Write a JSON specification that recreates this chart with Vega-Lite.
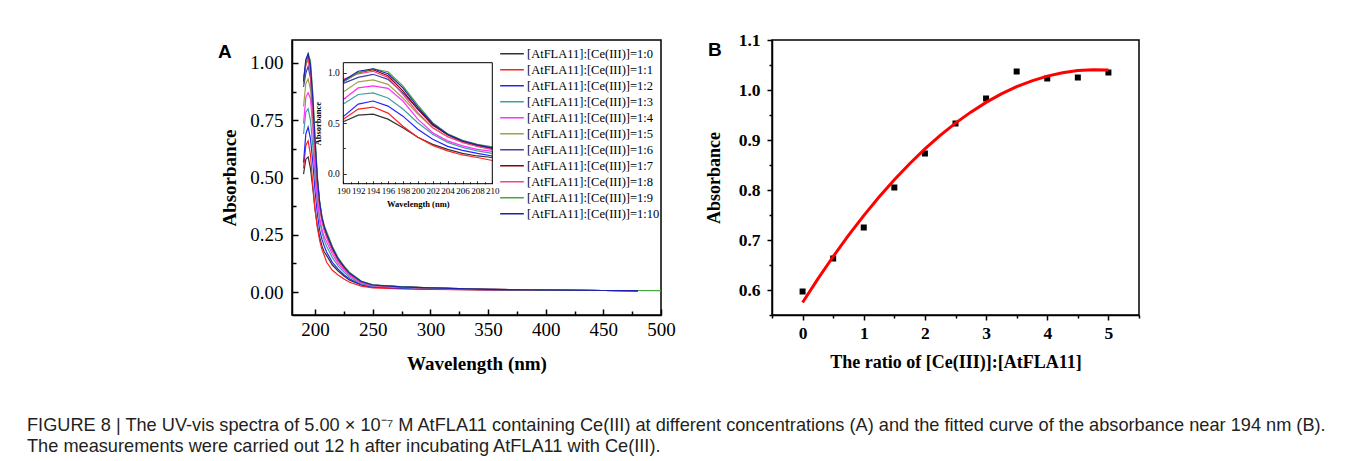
{
  "$schema": "https://vega.github.io/schema/vega-lite/v6.json",
  "background": "white",
  "padding": {"left": 27, "top": 30, "right": 5, "bottom": 5},
  "title": {
    "text": ["FIGURE 8 | The UV-vis spectra of 5.00 × 10⁻⁷ M AtFLA11 containing Ce(III) at different concentrations (A) and the fitted curve of the absorbance near 194 nm (B).", "The measurements were carried out 12 h after incubating AtFLA11 with Ce(III)."],
    "orient": "bottom", "anchor": "start", "frame": "group", "dx": -265, "offset": 43,
    "font": "Liberation Sans", "fontSize": 18.2, "fontWeight": "normal", "lineHeight": 21, "color": "#231f20"
  },
  "bounds": "flush",
  "spacing": 111,
  "datasets": {
    "spectra": [
      {"ratio":"1:0","wl":190,"abs":0.515},{"ratio":"1:0","wl":192,"abs":0.58},{"ratio":"1:0","wl":194,"abs":0.59},{"ratio":"1:0","wl":196,"abs":0.54},{"ratio":"1:0","wl":198,"abs":0.455},{"ratio":"1:0","wl":200,"abs":0.36},{"ratio":"1:0","wl":202,"abs":0.29},{"ratio":"1:0","wl":204,"abs":0.24},{"ratio":"1:0","wl":206,"abs":0.2},{"ratio":"1:0","wl":208,"abs":0.175},{"ratio":"1:0","wl":210,"abs":0.16},{"ratio":"1:0","wl":215,"abs":0.118},{"ratio":"1:0","wl":220,"abs":0.092},{"ratio":"1:0","wl":225,"abs":0.07},{"ratio":"1:0","wl":230,"abs":0.052},{"ratio":"1:0","wl":240,"abs":0.031},{"ratio":"1:0","wl":250,"abs":0.021},{"ratio":"1:0","wl":275,"abs":0.016},{"ratio":"1:0","wl":300,"abs":0.013},{"ratio":"1:0","wl":350,"abs":0.01},{"ratio":"1:0","wl":400,"abs":0.008},{"ratio":"1:0","wl":450,"abs":0.007},{"ratio":"1:0","wl":480,"abs":0.006},
      {"ratio":"1:1","wl":190,"abs":0.54},{"ratio":"1:1","wl":192,"abs":0.64},{"ratio":"1:1","wl":194,"abs":0.66},{"ratio":"1:1","wl":196,"abs":0.6},{"ratio":"1:1","wl":198,"abs":0.47},{"ratio":"1:1","wl":200,"abs":0.36},{"ratio":"1:1","wl":202,"abs":0.28},{"ratio":"1:1","wl":204,"abs":0.225},{"ratio":"1:1","wl":206,"abs":0.185},{"ratio":"1:1","wl":208,"abs":0.16},{"ratio":"1:1","wl":210,"abs":0.13},{"ratio":"1:1","wl":215,"abs":0.095},{"ratio":"1:1","wl":220,"abs":0.075},{"ratio":"1:1","wl":225,"abs":0.057},{"ratio":"1:1","wl":230,"abs":0.043},{"ratio":"1:1","wl":240,"abs":0.026},{"ratio":"1:1","wl":250,"abs":0.018},{"ratio":"1:1","wl":275,"abs":0.014},{"ratio":"1:1","wl":300,"abs":0.012},{"ratio":"1:1","wl":350,"abs":0.01},{"ratio":"1:1","wl":400,"abs":0.008},{"ratio":"1:1","wl":450,"abs":0.007},{"ratio":"1:1","wl":480,"abs":0.006},
      {"ratio":"1:2","wl":190,"abs":0.565},{"ratio":"1:2","wl":192,"abs":0.69},{"ratio":"1:2","wl":194,"abs":0.72},{"ratio":"1:2","wl":196,"abs":0.67},{"ratio":"1:2","wl":198,"abs":0.57},{"ratio":"1:2","wl":200,"abs":0.44},{"ratio":"1:2","wl":202,"abs":0.34},{"ratio":"1:2","wl":204,"abs":0.27},{"ratio":"1:2","wl":206,"abs":0.23},{"ratio":"1:2","wl":208,"abs":0.2},{"ratio":"1:2","wl":210,"abs":0.175},{"ratio":"1:2","wl":215,"abs":0.13},{"ratio":"1:2","wl":220,"abs":0.1},{"ratio":"1:2","wl":225,"abs":0.076},{"ratio":"1:2","wl":230,"abs":0.057},{"ratio":"1:2","wl":240,"abs":0.033},{"ratio":"1:2","wl":250,"abs":0.023},{"ratio":"1:2","wl":275,"abs":0.017},{"ratio":"1:2","wl":300,"abs":0.014},{"ratio":"1:2","wl":350,"abs":0.011},{"ratio":"1:2","wl":400,"abs":0.008},{"ratio":"1:2","wl":450,"abs":0.007},{"ratio":"1:2","wl":480,"abs":0.006},
      {"ratio":"1:3","wl":190,"abs":0.69},{"ratio":"1:3","wl":192,"abs":0.785},{"ratio":"1:3","wl":194,"abs":0.8},{"ratio":"1:3","wl":196,"abs":0.75},{"ratio":"1:3","wl":198,"abs":0.64},{"ratio":"1:3","wl":200,"abs":0.505},{"ratio":"1:3","wl":202,"abs":0.39},{"ratio":"1:3","wl":204,"abs":0.31},{"ratio":"1:3","wl":206,"abs":0.26},{"ratio":"1:3","wl":208,"abs":0.225},{"ratio":"1:3","wl":210,"abs":0.2},{"ratio":"1:3","wl":215,"abs":0.15},{"ratio":"1:3","wl":220,"abs":0.114},{"ratio":"1:3","wl":225,"abs":0.087},{"ratio":"1:3","wl":230,"abs":0.065},{"ratio":"1:3","wl":240,"abs":0.037},{"ratio":"1:3","wl":250,"abs":0.025},{"ratio":"1:3","wl":275,"abs":0.019},{"ratio":"1:3","wl":300,"abs":0.015},{"ratio":"1:3","wl":350,"abs":0.011},{"ratio":"1:3","wl":400,"abs":0.009},{"ratio":"1:3","wl":450,"abs":0.007},{"ratio":"1:3","wl":480,"abs":0.006},
      {"ratio":"1:4","wl":190,"abs":0.735},{"ratio":"1:4","wl":192,"abs":0.85},{"ratio":"1:4","wl":194,"abs":0.87},{"ratio":"1:4","wl":196,"abs":0.845},{"ratio":"1:4","wl":198,"abs":0.72},{"ratio":"1:4","wl":200,"abs":0.54},{"ratio":"1:4","wl":202,"abs":0.405},{"ratio":"1:4","wl":204,"abs":0.325},{"ratio":"1:4","wl":206,"abs":0.275},{"ratio":"1:4","wl":208,"abs":0.24},{"ratio":"1:4","wl":210,"abs":0.22},{"ratio":"1:4","wl":215,"abs":0.165},{"ratio":"1:4","wl":220,"abs":0.125},{"ratio":"1:4","wl":225,"abs":0.096},{"ratio":"1:4","wl":230,"abs":0.071},{"ratio":"1:4","wl":240,"abs":0.041},{"ratio":"1:4","wl":250,"abs":0.027},{"ratio":"1:4","wl":275,"abs":0.021},{"ratio":"1:4","wl":300,"abs":0.016},{"ratio":"1:4","wl":350,"abs":0.011},{"ratio":"1:4","wl":400,"abs":0.009},{"ratio":"1:4","wl":450,"abs":0.007},{"ratio":"1:4","wl":480,"abs":0.006},
      {"ratio":"1:5","wl":190,"abs":0.81},{"ratio":"1:5","wl":192,"abs":0.91},{"ratio":"1:5","wl":194,"abs":0.93},{"ratio":"1:5","wl":196,"abs":0.885},{"ratio":"1:5","wl":198,"abs":0.75},{"ratio":"1:5","wl":200,"abs":0.59},{"ratio":"1:5","wl":202,"abs":0.455},{"ratio":"1:5","wl":204,"abs":0.365},{"ratio":"1:5","wl":206,"abs":0.31},{"ratio":"1:5","wl":208,"abs":0.27},{"ratio":"1:5","wl":210,"abs":0.24},{"ratio":"1:5","wl":215,"abs":0.18},{"ratio":"1:5","wl":220,"abs":0.136},{"ratio":"1:5","wl":225,"abs":0.104},{"ratio":"1:5","wl":230,"abs":0.077},{"ratio":"1:5","wl":240,"abs":0.044},{"ratio":"1:5","wl":250,"abs":0.029},{"ratio":"1:5","wl":275,"abs":0.022},{"ratio":"1:5","wl":300,"abs":0.017},{"ratio":"1:5","wl":350,"abs":0.012},{"ratio":"1:5","wl":400,"abs":0.009},{"ratio":"1:5","wl":450,"abs":0.007},{"ratio":"1:5","wl":480,"abs":0.006},
      {"ratio":"1:6","wl":190,"abs":0.895},{"ratio":"1:6","wl":192,"abs":0.955},{"ratio":"1:6","wl":194,"abs":0.985},{"ratio":"1:6","wl":196,"abs":0.935},{"ratio":"1:6","wl":198,"abs":0.8},{"ratio":"1:6","wl":200,"abs":0.64},{"ratio":"1:6","wl":202,"abs":0.49},{"ratio":"1:6","wl":204,"abs":0.385},{"ratio":"1:6","wl":206,"abs":0.32},{"ratio":"1:6","wl":208,"abs":0.275},{"ratio":"1:6","wl":210,"abs":0.245},{"ratio":"1:6","wl":215,"abs":0.184},{"ratio":"1:6","wl":220,"abs":0.139},{"ratio":"1:6","wl":225,"abs":0.106},{"ratio":"1:6","wl":230,"abs":0.079},{"ratio":"1:6","wl":240,"abs":0.045},{"ratio":"1:6","wl":250,"abs":0.03},{"ratio":"1:6","wl":275,"abs":0.023},{"ratio":"1:6","wl":300,"abs":0.017},{"ratio":"1:6","wl":350,"abs":0.012},{"ratio":"1:6","wl":400,"abs":0.009},{"ratio":"1:6","wl":450,"abs":0.007},{"ratio":"1:6","wl":480,"abs":0.006},
      {"ratio":"1:7","wl":190,"abs":0.91},{"ratio":"1:7","wl":192,"abs":1.0},{"ratio":"1:7","wl":194,"abs":1.03},{"ratio":"1:7","wl":196,"abs":0.97},{"ratio":"1:7","wl":198,"abs":0.82},{"ratio":"1:7","wl":200,"abs":0.64},{"ratio":"1:7","wl":202,"abs":0.48},{"ratio":"1:7","wl":204,"abs":0.385},{"ratio":"1:7","wl":206,"abs":0.32},{"ratio":"1:7","wl":208,"abs":0.28},{"ratio":"1:7","wl":210,"abs":0.255},{"ratio":"1:7","wl":215,"abs":0.193},{"ratio":"1:7","wl":220,"abs":0.145},{"ratio":"1:7","wl":225,"abs":0.111},{"ratio":"1:7","wl":230,"abs":0.082},{"ratio":"1:7","wl":240,"abs":0.046},{"ratio":"1:7","wl":250,"abs":0.031},{"ratio":"1:7","wl":275,"abs":0.023},{"ratio":"1:7","wl":300,"abs":0.018},{"ratio":"1:7","wl":350,"abs":0.012},{"ratio":"1:7","wl":400,"abs":0.009},{"ratio":"1:7","wl":450,"abs":0.007},{"ratio":"1:7","wl":480,"abs":0.006},
      {"ratio":"1:8","wl":190,"abs":0.935},{"ratio":"1:8","wl":192,"abs":0.99},{"ratio":"1:8","wl":194,"abs":1.015},{"ratio":"1:8","wl":196,"abs":0.955},{"ratio":"1:8","wl":198,"abs":0.785},{"ratio":"1:8","wl":200,"abs":0.605},{"ratio":"1:8","wl":202,"abs":0.455},{"ratio":"1:8","wl":204,"abs":0.365},{"ratio":"1:8","wl":206,"abs":0.31},{"ratio":"1:8","wl":208,"abs":0.27},{"ratio":"1:8","wl":210,"abs":0.24},{"ratio":"1:8","wl":215,"abs":0.18},{"ratio":"1:8","wl":220,"abs":0.136},{"ratio":"1:8","wl":225,"abs":0.104},{"ratio":"1:8","wl":230,"abs":0.077},{"ratio":"1:8","wl":240,"abs":0.044},{"ratio":"1:8","wl":250,"abs":0.029},{"ratio":"1:8","wl":275,"abs":0.022},{"ratio":"1:8","wl":300,"abs":0.017},{"ratio":"1:8","wl":350,"abs":0.012},{"ratio":"1:8","wl":390,"abs":0.009},
      {"ratio":"1:9","wl":190,"abs":0.91},{"ratio":"1:9","wl":192,"abs":1.0},{"ratio":"1:9","wl":194,"abs":1.04},{"ratio":"1:9","wl":196,"abs":1.01},{"ratio":"1:9","wl":198,"abs":0.87},{"ratio":"1:9","wl":200,"abs":0.68},{"ratio":"1:9","wl":202,"abs":0.505},{"ratio":"1:9","wl":204,"abs":0.395},{"ratio":"1:9","wl":206,"abs":0.33},{"ratio":"1:9","wl":208,"abs":0.29},{"ratio":"1:9","wl":210,"abs":0.265},{"ratio":"1:9","wl":215,"abs":0.2},{"ratio":"1:9","wl":220,"abs":0.15},{"ratio":"1:9","wl":225,"abs":0.115},{"ratio":"1:9","wl":230,"abs":0.085},{"ratio":"1:9","wl":240,"abs":0.048},{"ratio":"1:9","wl":250,"abs":0.032},{"ratio":"1:9","wl":275,"abs":0.024},{"ratio":"1:9","wl":300,"abs":0.018},{"ratio":"1:9","wl":350,"abs":0.012},{"ratio":"1:9","wl":400,"abs":0.009},{"ratio":"1:9","wl":450,"abs":0.007},{"ratio":"1:9","wl":500,"abs":0.006},
      {"ratio":"1:10","wl":190,"abs":0.92},{"ratio":"1:10","wl":192,"abs":1.015},{"ratio":"1:10","wl":194,"abs":1.04},{"ratio":"1:10","wl":196,"abs":0.99},{"ratio":"1:10","wl":198,"abs":0.85},{"ratio":"1:10","wl":200,"abs":0.66},{"ratio":"1:10","wl":202,"abs":0.495},{"ratio":"1:10","wl":204,"abs":0.39},{"ratio":"1:10","wl":206,"abs":0.325},{"ratio":"1:10","wl":208,"abs":0.285},{"ratio":"1:10","wl":210,"abs":0.255},{"ratio":"1:10","wl":215,"abs":0.193},{"ratio":"1:10","wl":220,"abs":0.145},{"ratio":"1:10","wl":225,"abs":0.111},{"ratio":"1:10","wl":230,"abs":0.082},{"ratio":"1:10","wl":240,"abs":0.046},{"ratio":"1:10","wl":250,"abs":0.031},{"ratio":"1:10","wl":275,"abs":0.023},{"ratio":"1:10","wl":300,"abs":0.018},{"ratio":"1:10","wl":350,"abs":0.012},{"ratio":"1:10","wl":400,"abs":0.009},{"ratio":"1:10","wl":450,"abs":0.007},{"ratio":"1:10","wl":480,"abs":0.006}
    ],
    "points": [
      {"ratio":0,"abs":0.597},{"ratio":0.5,"abs":0.663},{"ratio":1,"abs":0.725},{"ratio":1.5,"abs":0.805},{"ratio":2,"abs":0.873},{"ratio":2.5,"abs":0.933},{"ratio":3,"abs":0.983},{"ratio":3.5,"abs":1.037},{"ratio":4,"abs":1.023},{"ratio":4.5,"abs":1.025},{"ratio":5,"abs":1.035}
    ],
    "fit": [
      {"ratio":0,"abs":0.575},{"ratio":0.25,"abs":0.6222},{"ratio":0.5,"abs":0.667},{"ratio":0.75,"abs":0.7091},{"ratio":1,"abs":0.7488},{"ratio":1.25,"abs":0.7859},{"ratio":1.5,"abs":0.8206},{"ratio":1.75,"abs":0.8526},{"ratio":2,"abs":0.8822},{"ratio":2.25,"abs":0.9092},{"ratio":2.5,"abs":0.9338},{"ratio":2.75,"abs":0.9557},{"ratio":3,"abs":0.9752},{"ratio":3.25,"abs":0.9921},{"ratio":3.5,"abs":1.0066},{"ratio":3.75,"abs":1.0184},{"ratio":4,"abs":1.0278},{"ratio":4.25,"abs":1.0346},{"ratio":4.5,"abs":1.039},{"ratio":4.75,"abs":1.0407},{"ratio":5,"abs":1.04}
    ]
  },
  "hconcat": [
    {
      "width": 369, "height": 275,
      "title": {"text": "A", "anchor": "start", "frame": "group", "dx": -74, "offset": -37, "baseline": "alphabetic", "font": "Liberation Sans", "fontSize": 19, "fontWeight": "bold", "color": "black"},
      "data": {"name": "spectra"},
      "layer": [
        {
          "mark": {"type": "line", "strokeWidth": 1.2},
          "encoding": {
            "x": {"field": "wl", "type": "quantitative", "scale": {"domain": [180, 500], "nice": false},
              "axis": {"orient": "bottom", "values": [200,225,250,275,300,325,350,375,400,425,450,475,500],
                "labelExpr": "datum.value % 50 === 0 ? datum.label : ''", "labelOverlap": false, "labelFlush": false,
                "tickSize": {"condition": {"test": "datum.value % 50 === 0", "value": -6}, "value": -4},
                "tickWidth": 1.5, "domainWidth": 1.5, "labelFont": "Liberation Serif", "labelFontSize": 19, "labelPadding": 11, "format": "d",
                "title": "Wavelength (nm)", "titleFont": "Liberation Serif", "titleFontSize": 19, "titleFontWeight": "bold", "titlePadding": 13}},
            "y": {"field": "abs", "type": "quantitative", "scale": {"domain": [-0.1, 1.1], "nice": false},
              "axis": {"orient": "left", "values": [0,0.125,0.25,0.375,0.5,0.625,0.75,0.875,1.0],
                "labelExpr": "(datum.value * 4) % 1 === 0 ? datum.label : ''", "labelOverlap": false,
                "tickSize": {"condition": {"test": "(datum.value * 4) % 1 === 0", "value": -6}, "value": -4},
                "tickWidth": 1.5, "domainWidth": 1.5, "labelFont": "Liberation Serif", "labelFontSize": 19, "labelPadding": 15, "format": ".2f",
                "title": "Absorbance", "titleFont": "Liberation Serif", "titleFontSize": 19, "titleFontWeight": "bold", "titlePadding": 10}},
            "color": {"field": "ratio", "type": "nominal",
              "scale": {"domain": ["1:0","1:1","1:2","1:3","1:4","1:5","1:6","1:7","1:8","1:9","1:10"],
                "range": ["#333333","#ff2020","#2424ff","#40a0a0","#ff30ff","#a0a050","#4040a8","#8b0000","#ff4080","#45a845","#2020b0"]},
              "legend": {"title": null, "orient": "none", "legendX": 207, "legendY": 6, "padding": 0,
                "labelExpr": "'[AtFLA11]:[Ce(III)]=' + datum.label",
                "labelFont": "Liberation Serif", "labelFontSize": 12.5, "labelColor": "black", "labelOffset": 2,
                "symbolType": "stroke", "symbolSize": 560, "symbolStrokeWidth": 1.5, "rowPadding": 0, "clipHeight": 15.6}}
          }
        },
        {
          "layer": [
            {
              "transform": [{"filter": "datum.wl <= 210"}],
              "mark": {"type": "line", "strokeWidth": 1.2},
              "encoding": {
                "x": {"field": "wl", "type": "quantitative", "scale": {"domain": [190, 210], "nice": false, "range": [51.3, 200.3]},
                  "axis": {"orient": "bottom", "offset": -131.3, "domain": false, "values": [190,192,194,196,198,200,202,204,206,208,210],
                    "labelOverlap": false, "labelFlush": false, "tickSize": -3,
                    "tickWidth": 0.8, "labelFont": "Liberation Serif", "labelFontSize": 9, "labelPadding": 5.5, "format": "d",
                    "title": "Wavelength (nm)", "titleFont": "Liberation Serif", "titleFontSize": 8.5, "titleFontWeight": "bold", "titlePadding": 4}},
                "y": {"field": "abs", "type": "quantitative", "scale": {"domain": [-0.1, 1.1], "nice": false, "range": [143.7, 22.7]},
                  "axis": {"orient": "left", "offset": -51.3, "domain": false, "values": [0, 0.5, 1.0],
                    "labelOverlap": false, "tickSize": -3,
                    "tickWidth": 0.8, "labelFont": "Liberation Serif", "labelFontSize": 9.5, "labelPadding": 7, "format": ".1f",
                    "title": "Absorbance", "titleFont": "Liberation Serif", "titleFontSize": 8.5, "titleFontWeight": "bold", "titlePadding": 5}},
                "color": {"field": "ratio", "type": "nominal", "legend": null}
              }
            },
            {
              "data": {"values": [{}]},
              "mark": {"type": "rect", "fill": null, "stroke": "black", "strokeWidth": 1},
              "encoding": {
                "x": {"datum": 190, "type": "quantitative",
                  "axis": {"orient": "bottom", "offset": -131.3, "domain": false, "labels": false, "title": null, "values": [191,193,195,197,199,201,203,205,207,209], "tickSize": -2, "tickWidth": 0.8}},
                "x2": {"datum": 210},
                "y": {"datum": -0.1, "type": "quantitative",
                  "axis": {"orient": "left", "offset": -51.3, "domain": false, "labels": false, "title": null, "values": [0.25, 0.75], "tickSize": -2, "tickWidth": 0.8}},
                "y2": {"datum": 1.1}
              }
            }
          ],
          "resolve": {"axis": {"x": "independent", "y": "independent"}}
        }
      ],
      "resolve": {"scale": {"x": "independent", "y": "independent"}, "axis": {"x": "independent", "y": "independent"}}
    },
    {
      "width": 367, "height": 275,
      "title": {"text": "B", "anchor": "start", "frame": "group", "dx": -64, "offset": -44, "baseline": "alphabetic", "font": "Liberation Sans", "fontSize": 19, "fontWeight": "bold", "color": "black"},
      "layer": [
        {
          "data": {"name": "points"},
          "mark": {"type": "square", "size": 36, "color": "black", "opacity": 1},
          "encoding": {
            "x": {"field": "ratio", "type": "quantitative", "scale": {"domain": [-0.5, 5.5], "nice": false},
              "axis": {"orient": "bottom", "values": [0,1,2,3,4,5], "labelOverlap": false, "labelFlush": false,
                "tickSize": 5, "tickWidth": 1.5, "domainWidth": 1.5, "labelFont": "Liberation Serif", "labelFontSize": 17.5, "labelFontWeight": "bold", "labelPadding": 4, "format": "d",
                "title": "The ratio of [Ce(III)]:[AtFLA11]", "titleFont": "Liberation Serif", "titleFontSize": 18, "titleFontWeight": "bold", "titlePadding": 12}},
            "y": {"field": "abs", "type": "quantitative", "scale": {"domain": [0.55, 1.1], "nice": false},
              "axis": {"orient": "left", "values": [0.6,0.7,0.8,0.9,1.0,1.1], "labelOverlap": false,
                "tickSize": 5, "tickWidth": 1.5, "domainWidth": 1.5, "labelFont": "Liberation Serif", "labelFontSize": 17.5, "labelFontWeight": "bold", "labelPadding": 7, "format": ".1f",
                "title": "Absorbance", "titleFont": "Liberation Serif", "titleFontSize": 18, "titleFontWeight": "bold", "titlePadding": 15}}
          }
        },
        {
          "data": {"name": "fit"},
          "mark": {"type": "line", "color": "#ff0000", "strokeWidth": 3},
          "encoding": {
            "x": {"field": "ratio", "type": "quantitative",
              "axis": {"orient": "bottom", "values": [-0.5,0.5,1.5,2.5,3.5,4.5,5.5], "labels": false, "title": null, "domain": false, "tickSize": 3, "tickWidth": 1.5}},
            "y": {"field": "abs", "type": "quantitative",
              "axis": {"orient": "left", "values": [0.55,0.65,0.75,0.85,0.95,1.05], "labels": false, "title": null, "domain": false, "tickSize": 3, "tickWidth": 1.5}}
          }
        }
      ],
      "resolve": {"axis": {"x": "independent", "y": "independent"}}
    }
  ],
  "config": {
    "view": {"stroke": "black", "strokeWidth": 1.5},
    "axis": {"grid": false, "labelOverlap": false, "domainColor": "black", "tickColor": "black", "labelColor": "black", "titleColor": "black"}
  }
}
